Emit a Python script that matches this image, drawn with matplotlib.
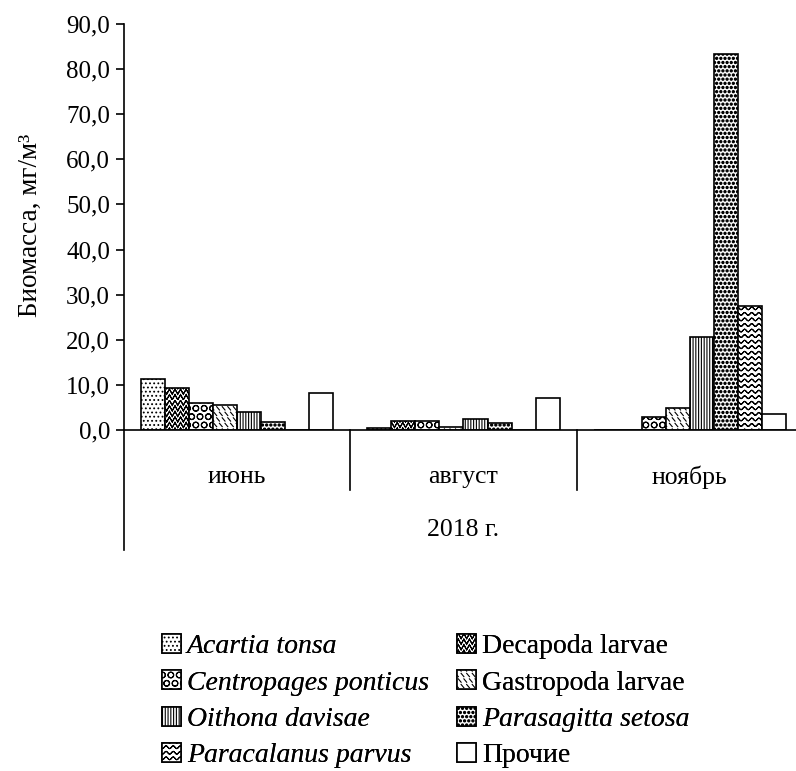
import warnings
warnings.filterwarnings('ignore')
import numpy as np
import matplotlib
matplotlib.use('Agg')
import matplotlib.pyplot as plt
import matplotlib.hatch as mhatch
from matplotlib.path import Path
from matplotlib.transforms import blended_transform_factory
from matplotlib.font_manager import FontProperties

# ---------------- data ----------------
months = ['июнь', 'август', 'ноябрь']
year_label = '2018 г.'
species = ['Acartia tonsa', 'Decapoda larvae', 'Centropages ponticus',
           'Gastropoda larvae', 'Oithona davisae', 'Parasagitta setosa',
           'Paracalanus parvus', 'Прочие']
italic = [True, False, True, False, True, True, True, False]
acartia = [11.2, 0.4, 0.0]
decapoda = [9.2, 1.9, 0.0]
centropages = [5.9, 1.9, 2.8]
gastropoda = [5.6, 0.6, 4.8]
oithona = [3.9, 2.4, 20.7]
parasagitta = [1.7, 1.6, 83.4]
paracalanus = [0.0, 0.0, 27.4]
prochie = [8.1, 7.2, 3.6]
values = [acartia, decapoda, centropages, gastropoda, oithona,
          parasagitta, paracalanus, prochie]
yticks = [0, 10, 20, 30, 40, 50, 60, 70, 80, 90]


# ---------------- custom hatches ----------------
def _retrace(xs, ys):
    """forward + backward polyline so that the filled area is zero"""
    fx = np.concatenate([xs, xs[-2::-1]])
    fy = np.concatenate([ys, ys[-2::-1]])
    return fx, fy


class WaveHatch(mhatch.HatchPatternBase):
    def __init__(self, hatch, density):
        self.num_rows = int(hatch.count('~') * density)
        self.periods = max(1, int(round(self.num_rows * 0.75)))
        self.pts = 8 * self.periods + 1
        self.per_row = 2 * self.pts - 1
        self.num_vertices = self.num_rows * self.per_row if self.num_rows else 0

    def set_vertices_and_codes(self, vertices, codes):
        xs = np.linspace(0, 1, self.pts)
        amp = 0.25 / self.num_rows
        for r in range(self.num_rows):
            y0 = (r + 0.5) / self.num_rows
            ys = y0 + amp * np.sin(2 * np.pi * self.periods * xs)
            fx, fy = _retrace(xs, ys)
            s = slice(r * self.per_row, (r + 1) * self.per_row)
            vertices[s, 0] = fx
            vertices[s, 1] = fy
            codes[s] = Path.LINETO
            codes[r * self.per_row] = Path.MOVETO


class ZigZagHatch(mhatch.HatchPatternBase):
    def __init__(self, hatch, density):
        self.num_rows = int(hatch.count('z') * density)
        self.teeth = self.num_rows
        self.pts = 2 * self.teeth + 1
        self.per_row = 2 * self.pts - 1
        self.num_vertices = self.num_rows * self.per_row if self.num_rows else 0

    def set_vertices_and_codes(self, vertices, codes):
        xs = np.linspace(0, 1, self.pts)
        h = 0.9 / self.num_rows
        for r in range(self.num_rows):
            y0 = r / self.num_rows + 0.05 / self.num_rows
            ys = np.where(np.arange(self.pts) % 2 == 0, y0, y0 + h)
            fx, fy = _retrace(xs, ys)
            s = slice(r * self.per_row, (r + 1) * self.per_row)
            vertices[s, 0] = fx
            vertices[s, 1] = fy
            codes[s] = Path.LINETO
            codes[r * self.per_row] = Path.MOVETO


class DashHatch(mhatch.HatchPatternBase):
    def __init__(self, hatch, density):
        self.num_rows = int(hatch.count('d') * density)
        self.ncols = self.num_rows
        self.num_vertices = 2 * self.num_rows * self.ncols if self.num_rows else 0

    def set_vertices_and_codes(self, vertices, codes):
        step = 1.0 / self.num_rows
        i = 0
        for r in range(self.num_rows):
            y0 = r * step + 0.2 * step
            for c in range(self.ncols):
                x0 = (c * step + (0.5 * step if r % 2 else 0.0)) % 1.0
                vertices[i] = (x0, y0 + 0.6 * step)
                vertices[i + 1] = (x0 + 0.5 * step, y0)
                codes[i] = Path.MOVETO
                codes[i + 1] = Path.LINETO
                i += 2


class BigDots(mhatch.Circles):
    size = 0.26
    filled = True

    def __init__(self, hatch, density):
        self.num_rows = hatch.count('@') * density
        super().__init__(hatch, density)


mhatch._hatch_types.extend([WaveHatch, ZigZagHatch, DashHatch, BigDots])

hatches = ['....', 'zzz', 'OO', 'ddd', '||||||', '@@@@', '~~~', None]

# ---------------- figure ----------------
plt.rcParams['font.family'] = ['Liberation Serif', 'DejaVu Serif']
plt.rcParams['hatch.linewidth'] = 0.8
FS_TICK = 18
FS_CAT = 18.5
FS_LEG = 20

fig = plt.figure(figsize=(7.96, 7.71), dpi=100)
W, H = 796, 771
ax = fig.add_axes([124 / W, (H - 430) / H, (803 - 124) / W, 406 / H])

x = np.arange(len(months))
bw = 24 / 226.3
handles = []
for i, (name, vals, h) in enumerate(zip(species, values, hatches)):
    b = ax.bar(x + (i - 3.5) * bw, vals, width=bw, color='white',
               edgecolor='black', linewidth=1.2, hatch=h, label=name)
    handles.append(b)

ax.set_xlim(-0.5, 2.5)
ax.set_ylim(0, 90)
ax.set_yticks(yticks)
ax.set_yticklabels([f'{v:.1f}'.replace('.', ',') for v in yticks],
                   fontsize=FS_TICK)
ax.set_xticks([])
for s in ['top', 'right']:
    ax.spines[s].set_visible(False)
for s in ['left', 'bottom']:
    ax.spines[s].set_linewidth(1.2)
ax.tick_params(axis='y', length=6, width=1.2, pad=4)

# multi-level category axis
ax.plot([0, 0], [0, -120 / 406], transform=ax.transAxes, clip_on=False,
        color='black', lw=1.2)
bt = blended_transform_factory(ax.transData, ax.transAxes)
for sx in [0.5, 1.5]:
    ax.plot([sx, sx], [0, -60 / 406], transform=bt, clip_on=False,
            color='black', lw=1.2)
for xi, m in zip(x, months):
    ax.text(xi, -47 / 406, m, transform=bt, ha='center', va='center',
            fontsize=FS_CAT)
ax.text(1, -100 / 406, year_label, transform=bt, ha='center', va='center',
        fontsize=FS_CAT)

fig.text(30 / W, 1 - 225 / H, 'Биомасса, мг/м³', rotation=90,
         ha='center', va='center', fontsize=19.5)

# legend: two columns as in the reference
cols = [[0, 2, 4, 6], [1, 3, 5, 7]]
col_x = [162, 457]
for cx, idx in zip(col_x, cols):
    leg = fig.legend([handles[k] for k in idx], [species[k] for k in idx],
                     loc='upper left', bbox_to_anchor=(cx / W, 1 - 634 / H),
                     ncol=1, frameon=False,
                     prop=FontProperties(family='Liberation Serif', size=FS_LEG),
                     borderpad=0, borderaxespad=0, handlelength=0.68,
                     handleheight=0.68, handletextpad=0.22, labelspacing=0.40)
    for t, k in zip(leg.get_texts(), idx):
        t.set_fontfamily('Liberation Serif')
        if italic[k]:
            t.set_fontstyle('italic')
    fig.add_artist(leg)

fig.savefig('out.png', dpi=100)
